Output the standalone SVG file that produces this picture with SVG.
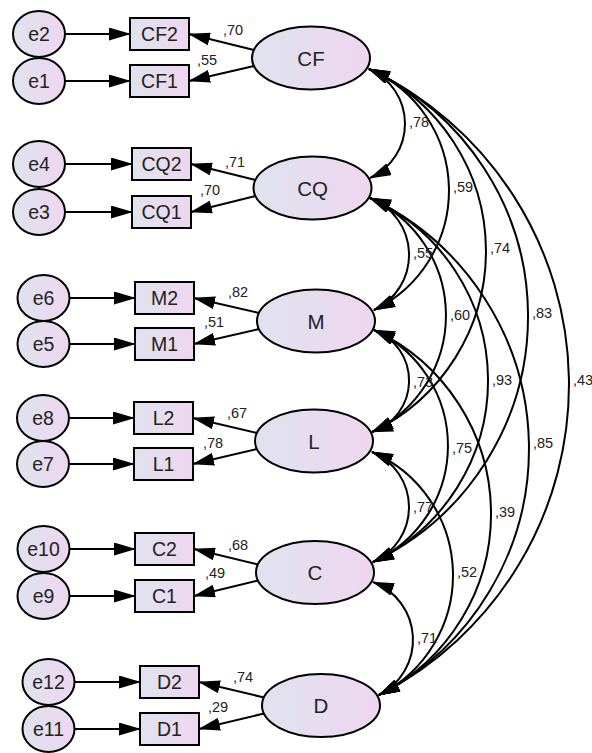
<svg xmlns="http://www.w3.org/2000/svg" width="592" height="753" viewBox="0 0 592 753">
  <defs>
    <linearGradient id="fillG" x1="0" y1="0" x2="1" y2="0">
      <stop offset="0" stop-color="#dfe3ee"/>
      <stop offset="1" stop-color="#efd6f0"/>
    </linearGradient>
    <marker id="ah" viewBox="0 0 22 13" refX="21" refY="6.5" markerWidth="22" markerHeight="13" markerUnits="userSpaceOnUse" orient="auto-start-reverse">
      <path d="M0,0 L22,6.5 L0,13 z" fill="#000"/>
    </marker>
    <style>
      .shape { fill: url(#fillG); stroke: #000; stroke-width: 2; }
      .lbl { font-family: "Liberation Sans", Arial, sans-serif; fill: #222; text-anchor: middle; }
      .big { font-size: 20.5px; }
      .mid { font-size: 19.5px; }
      .num { font-family: "Liberation Sans", Arial, sans-serif; font-size: 14.5px; fill: #222; }
      .ln { fill: none; stroke: #000; stroke-width: 2; }
      .arr { marker-end: url(#ah); }
      .cov { marker-start: url(#ah); marker-end: url(#ah); }
    </style>
  </defs>

  <!-- connectors: error terms, loadings and covariances -->
  <g id="connectors">
    <!-- error -> indicator -->
    <line class="ln arr" x1="65" y1="34" x2="130" y2="34"/>
    <line class="ln arr" x1="65" y1="81" x2="130" y2="81"/>
    <line class="ln arr" x1="65" y1="164" x2="132" y2="164"/>
    <line class="ln arr" x1="65" y1="212" x2="132" y2="212"/>
    <line class="ln arr" x1="69.5" y1="298" x2="135" y2="298"/>
    <line class="ln arr" x1="69.5" y1="344" x2="135" y2="344"/>
    <line class="ln arr" x1="69" y1="418" x2="134" y2="418"/>
    <line class="ln arr" x1="69" y1="464" x2="134" y2="464"/>
    <line class="ln arr" x1="69.5" y1="549" x2="135" y2="549"/>
    <line class="ln arr" x1="69.5" y1="596" x2="135" y2="596"/>
    <line class="ln arr" x1="74.5" y1="682" x2="140" y2="682"/>
    <line class="ln arr" x1="74.5" y1="729" x2="140" y2="729"/>

    <!-- factor -> indicator -->
    <line class="ln arr" x1="254" y1="50" x2="189" y2="34"/>
    <line class="ln arr" x1="254" y1="66" x2="189" y2="81"/>
    <line class="ln arr" x1="255.5" y1="180" x2="191" y2="164"/>
    <line class="ln arr" x1="255.5" y1="196" x2="191" y2="212"/>
    <line class="ln arr" x1="259" y1="313" x2="194" y2="298"/>
    <line class="ln arr" x1="259" y1="329" x2="194" y2="344"/>
    <line class="ln arr" x1="257" y1="433" x2="193" y2="418"/>
    <line class="ln arr" x1="257" y1="449" x2="193" y2="464"/>
    <line class="ln arr" x1="258" y1="564.5" x2="194" y2="549"/>
    <line class="ln arr" x1="258" y1="580.5" x2="194" y2="596"/>
    <line class="ln arr" x1="264" y1="697.5" x2="199" y2="682"/>
    <line class="ln arr" x1="264" y1="713.5" x2="199" y2="729"/>

    <!-- covariances between factors -->
    <path class="ln cov" d="M369,69 A59.6,59.6 0 0 1 370,178"/>
    <path class="ln cov" d="M369,69 A132.5,132.5 0 0 1 374,310"/>
    <path class="ln cov" d="M369,69 A200.4,200.4 0 0 1 372,432"/>
    <path class="ln cov" d="M369,69 A272,272 0 0 1 373,562"/>
    <path class="ln cov" d="M369,69 A348.8,348.8 0 0 1 379,695"/>
    <path class="ln cov" d="M370,198 A60.9,60.9 0 0 1 374,310"/>
    <path class="ln cov" d="M370,198 A128.8,128.8 0 0 1 372,432"/>
    <path class="ln cov" d="M370,198 A200.4,200.4 0 0 1 373,562"/>
    <path class="ln cov" d="M370,198 A277.2,277.2 0 0 1 379,695"/>
    <path class="ln cov" d="M374,330 A54.1,54.1 0 0 1 372,432"/>
    <path class="ln cov" d="M374,330 A127.6,127.6 0 0 1 373,562"/>
    <path class="ln cov" d="M374,330 A202.7,202.7 0 0 1 379,695"/>
    <path class="ln cov" d="M372,452 A59.7,59.7 0 0 1 373,562"/>
    <path class="ln cov" d="M372,452 A134.1,134.1 0 0 1 379,695"/>
    <path class="ln cov" d="M373,582 A61.8,61.8 0 0 1 379,695"/>

    <!-- loading values -->
    <text class="num" x="223" y="35">,70</text>
    <text class="num" x="197" y="65">,55</text>
    <text class="num" x="225" y="167">,71</text>
    <text class="num" x="200" y="195">,70</text>
    <text class="num" x="228" y="297">,82</text>
    <text class="num" x="204" y="327">,51</text>
    <text class="num" x="227" y="418">,67</text>
    <text class="num" x="203" y="448">,78</text>
    <text class="num" x="228" y="550">,68</text>
    <text class="num" x="205" y="578">,49</text>
    <text class="num" x="233" y="682">,74</text>
    <text class="num" x="208" y="712">,29</text>

    <!-- correlation values -->
    <text class="num" x="409" y="127">,78</text>
    <text class="num" x="453" y="192">,59</text>
    <text class="num" x="413" y="258">,55</text>
    <text class="num" x="490" y="253">,74</text>
    <text class="num" x="450" y="320">,60</text>
    <text class="num" x="532" y="318">,83</text>
    <text class="num" x="413" y="387">,73</text>
    <text class="num" x="492" y="385">,93</text>
    <text class="num" x="573" y="385">,43</text>
    <text class="num" x="452" y="453">,75</text>
    <text class="num" x="533" y="448">,85</text>
    <text class="num" x="413" y="512">,77</text>
    <text class="num" x="495" y="517">,39</text>
    <text class="num" x="457" y="577">,52</text>
    <text class="num" x="417" y="643">,71</text>
  </g>

  <!-- latent factors -->
  <g id="CF"><ellipse class="shape" cx="311" cy="58" rx="59" ry="31.5"/><text class="lbl big" x="311" y="65.5">CF</text></g>
  <g id="CQ"><ellipse class="shape" cx="312.5" cy="188" rx="59" ry="31.5"/><text class="lbl big" x="312.5" y="195.5">CQ</text></g>
  <g id="M"><ellipse class="shape" cx="316" cy="321" rx="59" ry="31.5"/><text class="lbl big" x="316" y="328.5">M</text></g>
  <g id="L"><ellipse class="shape" cx="314" cy="441" rx="59" ry="31.5"/><text class="lbl big" x="314" y="448.5">L</text></g>
  <g id="C"><ellipse class="shape" cx="315" cy="572.5" rx="59" ry="31.5"/><text class="lbl big" x="315" y="580">C</text></g>
  <g id="D"><ellipse class="shape" cx="321" cy="705.5" rx="59" ry="31.5"/><text class="lbl big" x="321" y="713">D</text></g>

  <!-- observed indicators -->
  <g id="CF2"><rect class="shape" x="130" y="18" width="59" height="32"/><text class="lbl mid" x="159.5" y="41">CF2</text></g>
  <g id="CF1"><rect class="shape" x="130" y="65" width="59" height="32"/><text class="lbl mid" x="159.5" y="88">CF1</text></g>
  <g id="CQ2"><rect class="shape" x="132" y="148" width="59" height="32"/><text class="lbl mid" x="161.5" y="171">CQ2</text></g>
  <g id="CQ1"><rect class="shape" x="132" y="196" width="59" height="32"/><text class="lbl mid" x="161.5" y="219">CQ1</text></g>
  <g id="M2"><rect class="shape" x="135" y="282" width="59" height="32"/><text class="lbl mid" x="164.5" y="305">M2</text></g>
  <g id="M1"><rect class="shape" x="135" y="328" width="59" height="32"/><text class="lbl mid" x="164.5" y="351">M1</text></g>
  <g id="L2"><rect class="shape" x="134" y="402" width="59" height="32"/><text class="lbl mid" x="163.5" y="425">L2</text></g>
  <g id="L1"><rect class="shape" x="134" y="448" width="59" height="32"/><text class="lbl mid" x="163.5" y="471">L1</text></g>
  <g id="C2"><rect class="shape" x="135" y="533" width="59" height="32"/><text class="lbl mid" x="164.5" y="556">C2</text></g>
  <g id="C1"><rect class="shape" x="135" y="580" width="59" height="32"/><text class="lbl mid" x="164.5" y="603">C1</text></g>
  <g id="D2"><rect class="shape" x="140" y="666" width="59" height="32"/><text class="lbl mid" x="169.5" y="689">D2</text></g>
  <g id="D1"><rect class="shape" x="140" y="713" width="59" height="32"/><text class="lbl mid" x="169.5" y="736">D1</text></g>

  <!-- error terms -->
  <g id="e2"><ellipse class="shape" cx="39" cy="34" rx="26" ry="23"/><text class="lbl mid" x="39" y="41">e2</text></g>
  <g id="e1"><ellipse class="shape" cx="39" cy="81" rx="26" ry="23"/><text class="lbl mid" x="39" y="88">e1</text></g>
  <g id="e4"><ellipse class="shape" cx="39" cy="164" rx="26" ry="23"/><text class="lbl mid" x="39" y="171">e4</text></g>
  <g id="e3"><ellipse class="shape" cx="39" cy="212" rx="26" ry="23"/><text class="lbl mid" x="39" y="219">e3</text></g>
  <g id="e6"><ellipse class="shape" cx="43.5" cy="298" rx="26" ry="23"/><text class="lbl mid" x="43.5" y="305">e6</text></g>
  <g id="e5"><ellipse class="shape" cx="43.5" cy="344" rx="26" ry="23"/><text class="lbl mid" x="43.5" y="351">e5</text></g>
  <g id="e8"><ellipse class="shape" cx="43" cy="418" rx="26" ry="23"/><text class="lbl mid" x="43" y="425">e8</text></g>
  <g id="e7"><ellipse class="shape" cx="43" cy="464" rx="26" ry="23"/><text class="lbl mid" x="43" y="471">e7</text></g>
  <g id="e10"><ellipse class="shape" cx="43.5" cy="549" rx="26" ry="23"/><text class="lbl mid" x="43.5" y="556">e10</text></g>
  <g id="e9"><ellipse class="shape" cx="43.5" cy="596" rx="26" ry="23"/><text class="lbl mid" x="43.5" y="603">e9</text></g>
  <g id="e12"><ellipse class="shape" cx="48.5" cy="682" rx="26" ry="23"/><text class="lbl mid" x="48.5" y="689">e12</text></g>
  <g id="e11"><ellipse class="shape" cx="48.5" cy="729" rx="26" ry="23"/><text class="lbl mid" x="48.5" y="736">e11</text></g>
</svg>
